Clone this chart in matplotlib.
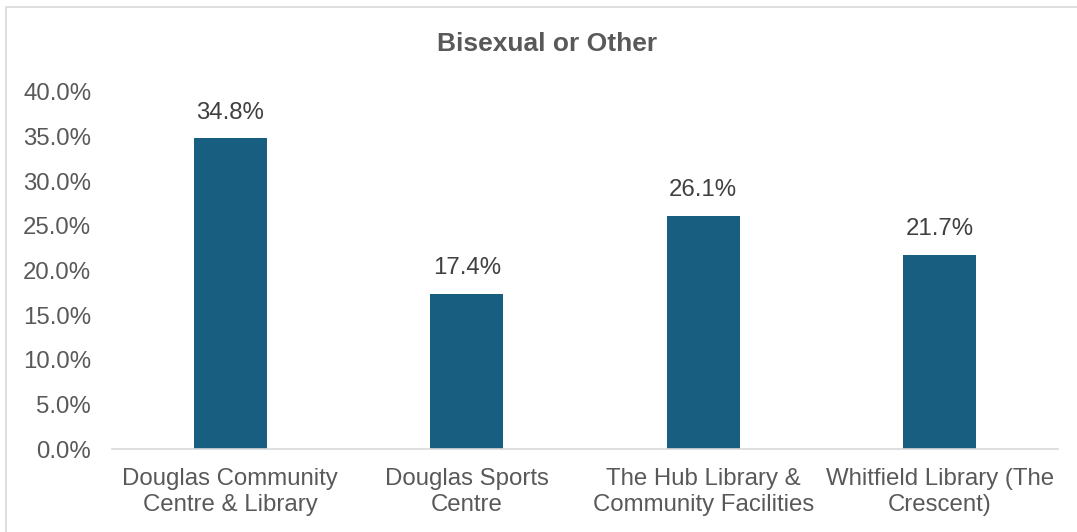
import matplotlib.pyplot as plt
from matplotlib.patches import Rectangle

categories = ['Douglas Community\nCentre & Library', 'Douglas Sports\nCentre',
              'The Hub Library &\nCommunity Facilities', 'Whitfield Library (The\nCrescent)']
values = [34.8, 17.4, 26.1, 21.7]
labels = ['34.8%', '17.4%', '26.1%', '21.7%']
yticks = [0, 5, 10, 15, 20, 25, 30, 35, 40]

plt.rcParams['font.family'] = ['Liberation Sans', 'DejaVu Sans']

fig = plt.figure(figsize=(10.77, 5.32), dpi=100)
ax = fig.add_axes([112 / 1077, 1 - 449 / 532, (1058 - 112) / 1077, (449 - 92) / 532])

x = range(len(values))
bars = ax.bar(x, values, width=0.31, color='#175e80')
for xi, v, lab in zip(x, values, labels):
    ax.text(xi, v + 2.9, lab, ha='center', va='center', fontsize=17.3, color='#404040')

ax.set_xlim(-0.5, len(values) - 0.5)
ax.set_ylim(0, 40)
ax.set_yticks(yticks)
ax.set_yticklabels([f'{t:.1f}%' for t in yticks], fontsize=17.3, color='#595959')
ax.set_xticks(list(x))
ax.set_xticklabels(categories, fontsize=17.3, color='#595959', linespacing=1.22)
ax.tick_params(axis='both', length=0)
ax.tick_params(axis='y', pad=15)
ax.tick_params(axis='x', pad=14)
for s in ['top', 'right', 'left']:
    ax.spines[s].set_visible(False)
ax.spines['bottom'].set_color('#d9d9d9')
ax.spines['bottom'].set_linewidth(1.2)

fig.text(547 / 1077, 1 - 44 / 532, 'Bisexual or Other', ha='center', va='center',
         fontsize=19, fontweight='bold', color='#595959')

fig.patches.append(Rectangle((6 / 1077, -0.1), 1.2, 1 - 7 / 532 + 0.1, transform=fig.transFigure,
                             fill=False, edgecolor='#d9d9d9', linewidth=1.2))

fig.savefig('out.png', dpi=100)
